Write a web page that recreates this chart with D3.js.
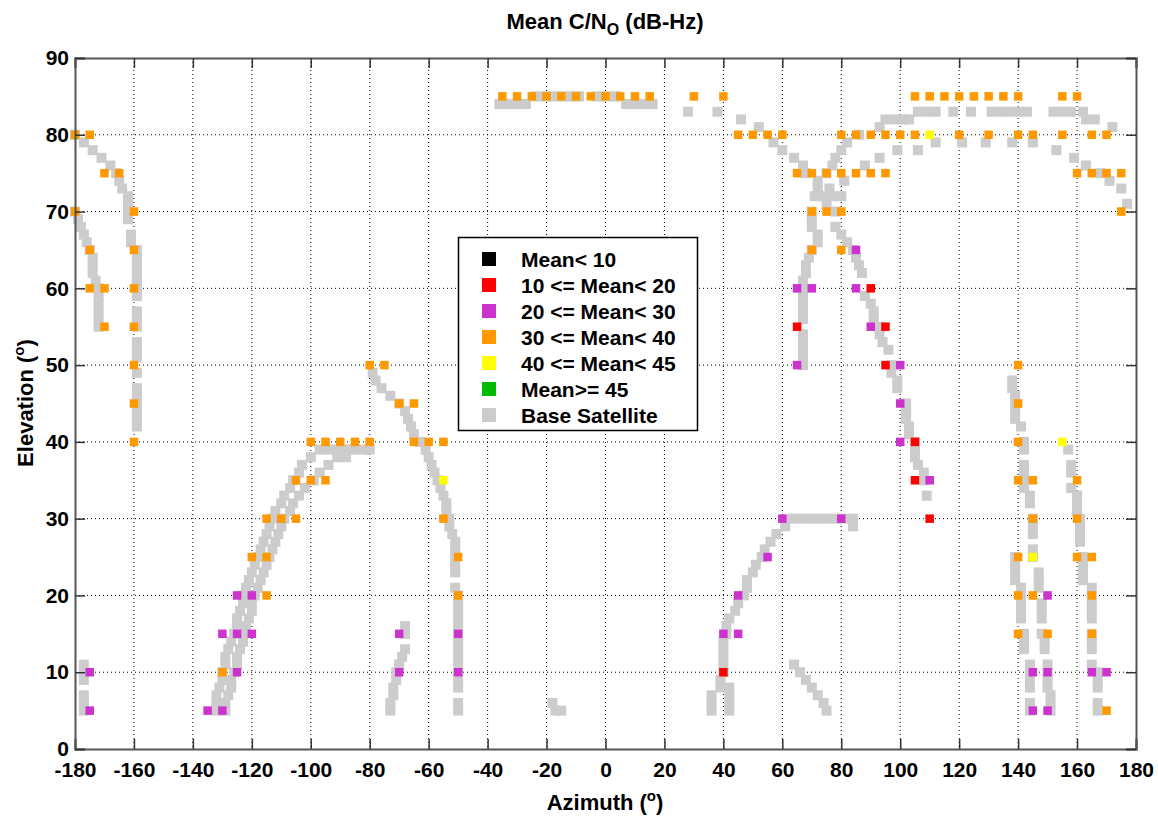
<!DOCTYPE html>
<html><head><meta charset="utf-8">
<script src="https://cdn.jsdelivr.net/npm/d3@7"></script>
<style>body{margin:0;background:#fff}svg{display:block}text{font-family:"Liberation Sans",Arial,sans-serif;font-weight:bold}</style>
</head><body><svg id="c" width="1158" height="816"></svg>
<script>
const azTicks=[-180,-160,-140,-120,-100,-80,-60,-40,-20,0,20,40,60,80,100,120,140,160,180];
const elTicks=[0,10,20,30,40,50,60,70,80,90];
const legendLabels=["Mean< 10","10 <= Mean< 20","20 <= Mean< 30","30 <= Mean< 40","40 <= Mean< 45","Mean>= 45","Base Satellite"];
const legendColors=["#000000","#ff0000","#cc33cc","#ff9900","#ffff00","#00bb00","#cccccc"];

const meanLt10=[];
const mean10to20=[[90,60],[65,55],[95,55],[95,50],[105,40],[105,35],[110,30],[40,10]];
const mean20to30=[[-125,20],[-120,20],[-130,15],[-125,15],[-120,15],[-125,10],[-135,5],[-130,5],[-175,10],[-175,5],[-70,15],[-70,10],[-50,15],[-50,10],
[85,65],[65,60],[70,60],[85,60],[90,55],[65,50],[100,50],[100,45],[100,40],[110,35],[60,30],[80,30],[55,25],[45,20],[40,15],[45,15],
[150,20],[145,10],[150,10],[165,10],[170,10],[145,5],[150,5]];
const mean30to40=[
[-35,85],[-30,85],[-25,85],[-20,85],[-15,85],[-10,85],[-5,85],[0,85],[5,85],[10,85],[15,85],[30,85],[40,85],[105,85],[110,85],[115,85],[120,85],[125,85],[130,85],[135,85],[140,85],[155,85],[160,85],
[-180,80],[-175,80],[45,80],[50,80],[55,80],[60,80],[80,80],[85,80],[90,80],[95,80],[100,80],[105,80],[120,80],[130,80],[140,80],[145,80],[155,80],[165,80],[170,80],
[-170,75],[-165,75],[65,75],[70,75],[75,75],[80,75],[85,75],[90,75],[95,75],[160,75],[165,75],[170,75],[175,75],
[-180,70],[-160,70],[70,70],[75,70],[80,70],[175,70],
[-175,65],[-160,65],[70,65],[80,65],
[-175,60],[-170,60],[-160,60],
[-170,55],[-160,55],
[-160,50],[-80,50],[-75,50],[140,50],
[-160,45],[-70,45],[-65,45],[140,45],
[-160,40],[-100,40],[-95,40],[-90,40],[-85,40],[-80,40],[-65,40],[-60,40],[-55,40],[140,40],
[-105,35],[-100,35],[-95,35],[140,35],[145,35],[160,35],
[-115,30],[-110,30],[-105,30],[-55,30],[145,30],[160,30],
[-120,25],[-115,25],[-50,25],[140,25],[160,25],[165,25],
[-115,20],[-50,20],[140,20],[145,20],[165,20],
[140,15],[150,15],[165,15],
[-130,10],
[170,5]];
const mean40to45=[[110,80],[-55,35],[155,40],[145,25]];
const meanGe45=[];
const baseSat=[
[-180,80],[-177,79],[-174,78],[-171,77],[-168,76],[-166,75],[-165,74],[-164,73],[-162,72],[-162,71],[-162,70],[-162,69],[-161,67],[-161,66],[-159,65],[-159,64],[-159,63],[-159,62],[-159,61],[-159,60],[-159,59],[-159,57],[-159,56],[-159,55],[-159,53],[-159,52],[-159,51],[-159,49],[-159,47],[-159,46],[-159,45],[-159,44],[-159,43],[-159,42],
[-180,70],[-179,69],[-178,68],[-177,67],[-176,66],[-175,65],[-174,64],[-174,63],[-174,62],[-173,61],[-172,60],[-172,59],[-172,58],[-172,57],[-172,56],[-172,55],
[-177,11],[-177,10],[-177,9],[-177,7],[-177,6],[-177,5],
[-132,5],[-132,6],[-132,7],[-131,8],[-130,9],[-130,10],[-129,11],[-129,12],[-128,13],[-127,14],[-126,15],[-125,16],[-125,17],[-124,18],[-123,19],[-123,20],[-122,21],[-121,22],[-120,23],[-119,24],[-118,25],[-117,26],[-116,27],[-115,28],[-114,29],[-113,30],[-112,31],[-110,32],[-109,33],[-107,34],[-106,35],[-104,36],[-103,37],[-100,38],[-97,39],[-94,39],[-91,39],[-88,39],[-85,39],[-82,39],[-80,39],
[-129,5],[-129,6],[-128,7],[-127,8],[-127,9],[-126,10],[-125,11],[-125,12],[-124,13],[-123,14],[-123,15],[-122,16],[-121,17],[-120,18],[-120,19],[-119,20],[-118,21],[-117,22],[-116,23],[-115,24],[-114,25],[-113,26],[-112,27],[-111,28],[-110,29],[-109,30],[-107,31],[-106,32],[-104,33],[-102,34],[-99,35],[-97,36],[-94,37],[-91,38],[-88,38],
[-79,49],[-78,48],[-76,47],[-73,46],[-70,45],[-68,44],[-67,43],[-66,42],[-65,41],[-63,40],[-61,39],[-60,38],[-59,37],[-58,36],[-57,35],[-56,34],[-55,33],[-54,32],[-54,31],[-53,30],[-53,29],[-52,28],[-51,27],[-51,26],[-51,25],[-51,24],[-51,23],[-51,21],[-50,20],[-50,19],[-50,18],[-50,17],[-50,16],[-50,15],[-50,14],[-50,13],[-50,12],[-50,11],[-50,10],[-50,9],[-50,8],[-50,6],[-50,5],
[-73,5],[-73,6],[-72,7],[-72,8],[-71,9],[-71,10],[-70,11],[-69,12],[-68,13],[-68,15],[-68,16],
[-18,6],[-17,5],[-15,5],
[-36,84],[-34,84],[-32,84],[-30,84],[-28,84],[-27,84],[-24,85],[-22,85],[-20,85],[-18,85],[-16,85],[-14,85],[-12,85],[-10,85],[-9,85],[-3,85],[-1,85],[1,85],[3,85],[4,85],[7,84],[9,84],[11,84],[13,84],[15,84],[16,84],
[28,83],[38,83],[46,82],[52,81],
[57,79],[60,78],[64,77],[67,76],[68,75],[72,74],[72,73],[71,72],[70,70],[70,69],[70,68],[72,67],[72,66],[70,65],[69,64],[68,63],[68,62],[67,61],[67,60],[67,59],[67,58],[67,57],[67,56],[67,54],[67,53],[67,52],[67,51],[67,50],
[74,72],[77,72],[80,72],[78,70],
[75,71],[76,73],[75,75],[77,76],[78,77],[80,78],[82,79],[86,80],[93,81],[95,82],[98,82],[101,82],[103,82],[106,83],[109,83],[112,83],[118,83],[124,83],[131,83],[134,83],[137,83],[140,83],[143,83],[152,83],[155,83],[158,83],[162,83],[163,82],[166,82],[172,81],
[78,68],[80,67],[82,66],[84,65],[85,64],[86,63],[87,62],[88,59],[90,58],[91,57],[91,56],[93,55],[93,54],[94,53],[96,52],[97,50],[97,49],[99,48],[99,47],[102,45],[102,44],[102,43],[103,42],[103,41],[105,40],[105,39],[105,38],[106,37],[108,36],[108,35],[109,33],
[81,74],[88,76],[93,77],[99,78],[106,78],[112,79],[121,79],[129,79],[138,79],[145,79],[153,78],[159,77],[163,76],[168,75],[171,74],[175,73],[177,71],
[36,5],[36,6],[36,7],[42,5],[42,6],[42,7],[42,8],[39,8],[39,9],[40,10],[40,11],[40,12],[40,13],[40,14],[41,15],[41,16],[42,17],[44,18],[45,19],[47,20],[48,21],[48,22],[50,23],[51,24],[53,25],[54,26],[56,27],[58,28],[61,29],[63,30],[66,30],[69,30],[72,30],[75,30],[78,30],[81,30],[84,30],[84,29],
[64,11],[66,10],[68,9],[70,8],[72,7],[74,6],[75,5],
[138,48],[138,47],[139,46],[139,45],[139,44],[139,43],[141,42],[142,40],[142,39],[142,37],[142,36],[142,35],[142,34],[144,33],[144,32],[145,30],[145,29],[145,28],[145,26],[145,25],[147,23],[147,22],[147,21],[148,19],[148,18],[148,17],[148,15],[149,14],[149,13],[150,11],[150,10],[150,9],[150,8],[151,7],[151,6],[151,5],
[139,25],[139,24],[139,23],[139,22],[141,21],[141,20],[141,19],[141,18],[141,17],[142,15],[142,14],[142,13],[144,11],[144,10],[144,9],[144,8],[144,6],[144,5],
[157,39],[158,37],[158,36],[158,34],[160,33],[160,32],[160,31],[161,30],[161,29],[161,28],[161,27],[162,25],[162,24],[162,23],[162,22],[165,21],[165,20],[165,19],[165,18],[165,17],[165,15],[165,14],[165,13],[165,11],[167,10],[167,9],[167,8],[167,6],[167,5]
];

const svg=d3.select("#c");
const L=75,R=1136,T=58,B=749;
const FONT=21;
const x=d3.scaleLinear().domain([-180,180]).range([L,R]);
const y=d3.scaleLinear().domain([0,90]).range([B,T]);

// grid
const g=svg.append("g");
g.selectAll("line.gx").data(azTicks.filter(d=>d>-180&&d<180)).join("line")
 .attr("x1",d=>x(d)).attr("x2",d=>x(d)).attr("y1",T).attr("y2",B)
 .attr("stroke","#000").attr("stroke-width",1).attr("stroke-dasharray","1,3");
g.selectAll("line.gy").data(elTicks.filter(d=>d>0&&d<90)).join("line")
 .attr("y1",d=>y(d)).attr("y2",d=>y(d)).attr("x1",L).attr("x2",R)
 .attr("stroke","#000").attr("stroke-width",1).attr("stroke-dasharray","1,3");

// points
function drawPts(data,color,size){
  svg.append("g").selectAll("rect").data(data).join("rect")
   .attr("x",d=>x(d[0])-size/2).attr("y",d=>y(d[1])-size/2)
   .attr("width",size).attr("height",size).attr("fill",color);
}
drawPts(baseSat,"#cccccc",10);
drawPts(meanLt10,"#000000",8.5);
drawPts(mean10to20,"#ff0000",8.5);
drawPts(mean20to30,"#cc33cc",8.5);
drawPts(mean30to40,"#ff9900",8.5);
drawPts(mean40to45,"#ffff00",8.5);
drawPts(meanGe45,"#00bb00",8.5);

// axes
const fmt=d=>String(d);
const axB=svg.append("g").attr("transform",`translate(0,${B})`).call(d3.axisBottom(x).tickValues(azTicks).tickSize(-10).tickPadding(14).tickFormat(fmt));
const axT=svg.append("g").attr("transform",`translate(0,${T})`).call(d3.axisTop(x).tickValues(azTicks).tickSize(-10).tickFormat(""));
const axL=svg.append("g").attr("transform",`translate(${L},0)`).call(d3.axisLeft(y).tickValues(elTicks).tickSize(-10).tickPadding(6).tickFormat(fmt));
const axR=svg.append("g").attr("transform",`translate(${R},0)`).call(d3.axisRight(y).tickValues(elTicks).tickSize(-10).tickFormat(""));
[axB,axT,axL,axR].forEach(a=>{a.select(".domain").attr("stroke","#555").attr("stroke-width",2);a.selectAll(".tick line").attr("stroke","#333").attr("stroke-width",1.5);
 a.selectAll("text").attr("font-size",FONT).attr("font-weight","bold").attr("fill","#000").attr("font-family","Liberation Sans, Arial, sans-serif");});
axB.selectAll(".tick text").attr("dy","0.66em");

// title
const t=svg.append("text").attr("x",605).attr("y",29).attr("text-anchor","middle").attr("font-size",22);
t.append("tspan").text("Mean C/N");
t.append("tspan").attr("font-size",16).attr("dy",6).text("O");
t.append("tspan").attr("dy",-6).text(" (dB-Hz)");
const xl=svg.append("text").attr("x",605).attr("y",810).attr("text-anchor","middle").attr("font-size",22);
xl.append("tspan").text("Azimuth (");
xl.append("tspan").attr("font-size",15).attr("dy",-9).text("o");
xl.append("tspan").attr("dy",9).text(")");
const yl=svg.append("text").attr("transform","translate(33,403) rotate(-90)").attr("text-anchor","middle").attr("font-size",22);
yl.append("tspan").text("Elevation (");
yl.append("tspan").attr("font-size",15).attr("dy",-9).text("o");
yl.append("tspan").attr("dy",9).text(")");

// legend
const lg=svg.append("g");
lg.append("rect").attr("x",458.5).attr("y",237.5).attr("width",239).attr("height",193).attr("fill","#fff").attr("stroke","#000").attr("stroke-width",1.5);
const rows=lg.selectAll("g.r").data(legendLabels).join("g").attr("transform",(d,i)=>`translate(0,${259+i*26})`);
rows.append("rect").attr("x",482).attr("y",-7).attr("width",14).attr("height",14).attr("fill",(d,i)=>legendColors[i]);
rows.append("text").attr("x",521).attr("y",7.5).attr("font-size",FONT).text(d=>d);
</script></body></html>
